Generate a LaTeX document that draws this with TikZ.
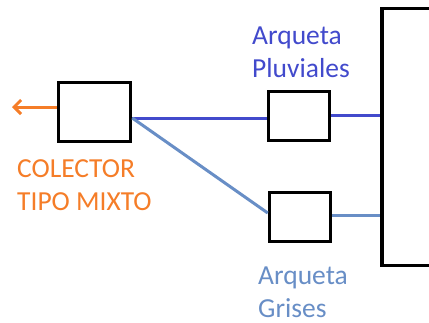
\documentclass[tikz,border=0pt]{standalone}
\usepackage{fontspec}
\setmainfont{Carlito}
\usetikzlibrary{arrows.meta}

\definecolor{naranja}{RGB}{245,125,40}
\definecolor{pluvial}{RGB}{66,74,204}
\definecolor{gris}{RGB}{104,142,198}

\begin{document}
\begin{tikzpicture}[
  x=1pt, y=-1pt,
  caja/.style={draw, line width=3.5pt, minimum width=72pt, minimum height=59pt, inner sep=0pt},
  arqueta/.style={draw, line width=3.5pt, minimum width=61pt, minimum height=49pt, inner sep=0pt},
  rotulo/.style={align=left, anchor=north west, inner sep=0pt, font=\fontsize{27.5}{33}\selectfont},
  tubo/.style={line width=3pt}
]
  \useasboundingbox (0,0) rectangle (429,322);
  \begin{scope}
    \clip (0,0) rectangle (429,322);
    \node[draw, line width=3.5pt, minimum width=100pt, minimum height=257pt, inner sep=0pt] (deposito) at (432,137) {};
  \end{scope}
  \node[caja] (colector) at (94.5,112) {};
  \node[arqueta] (pluviales) at (299,116) {};
  \node[arqueta] (grises) at (300,217) {};
  % salida del colector
  \coordinate (salida) at (12,107);
  \draw[tubo, naranja, -{Straight Barb[length=7pt,width=14pt]}] ([yshift=5pt]colector.west) -- (salida);
  \node[rotulo, text=naranja] (tcolector) at (17,159) {COLECTOR\\TIPO MIXTO};
  % ramales
  \draw[tubo, pluvial] ([yshift=-6pt]colector.east) -- ([yshift=-2pt]pluviales.west);
  \draw[tubo, gris] ([yshift=-6pt]colector.east) -- ([yshift=4pt]grises.west);
  \draw[tubo, pluvial] ([yshift=1pt]pluviales.east) -- ([yshift=1pt]pluviales.east -| deposito.west);
  \draw[tubo, gris] ([yshift=2pt]grises.east) -- ([yshift=2pt]grises.east -| deposito.west);
  \node[rotulo, text=pluvial] (tpluviales) at (252,27) {Arqueta\\Pluviales};
  \node[rotulo, text=gris] (tgrises) at (258,267) {Arqueta\\Grises};
\end{tikzpicture}
\end{document}
